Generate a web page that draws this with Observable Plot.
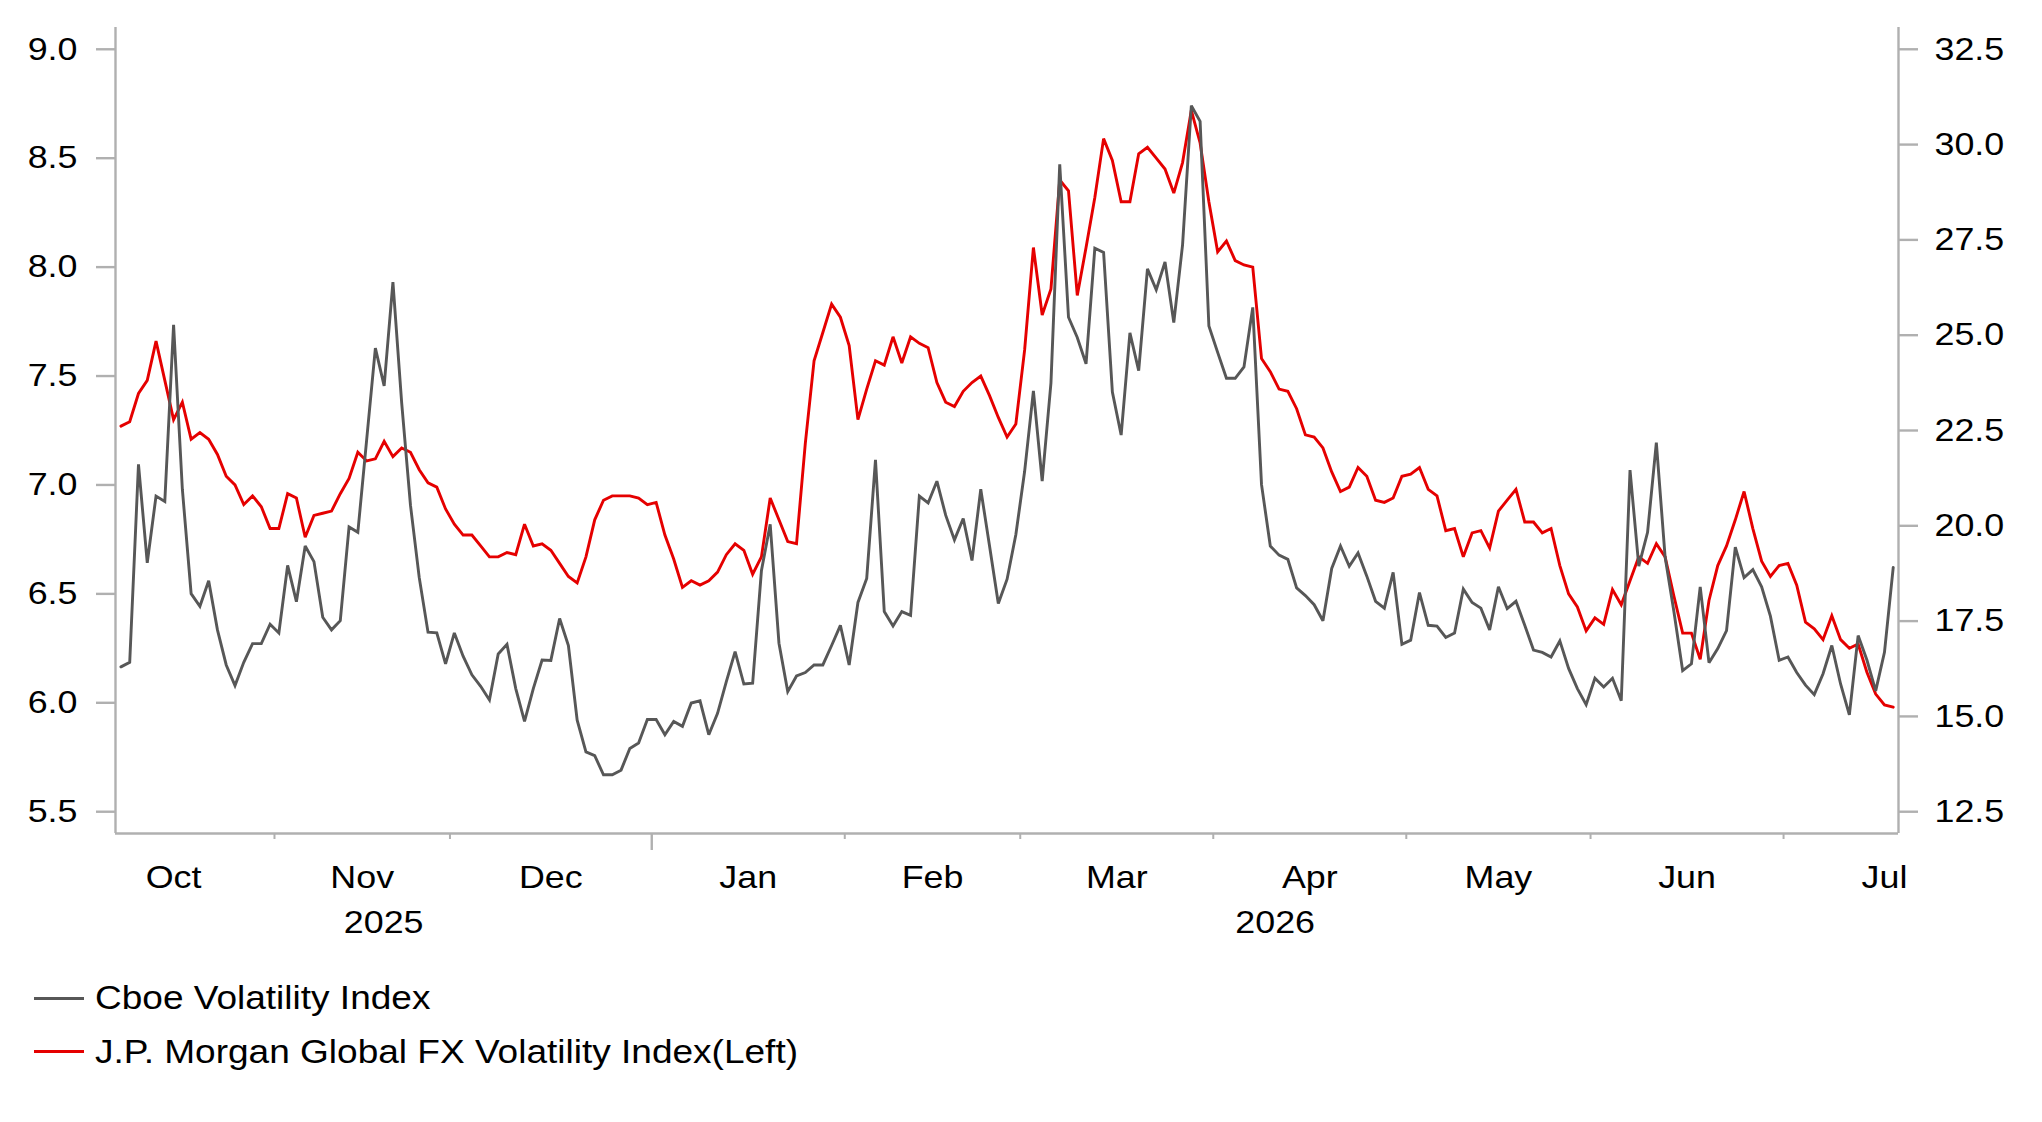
<!DOCTYPE html>
<html>
<head>
<meta charset="utf-8">
<script src="https://cdn.jsdelivr.net/npm/d3@7"></script>
<script src="https://cdn.jsdelivr.net/npm/@observablehq/plot@0.6"></script>
<style>
  html, body { margin: 0; padding: 0; background: #fff; }
  #chart { position: relative; width: 2042px; height: 1122px; overflow: hidden; background: #fff; }
  #legend { position: absolute; left: 0; top: 950px; width: 2042px; height: 172px;
            font-family: "Liberation Sans", Arial, sans-serif; color: #000; }
  .item { position: absolute; left: 0; height: 34px; }
  .swatch { position: absolute; left: 34px; width: 50px; height: 3px; top: 15.5px; }
  .label { position: absolute; left: 95px; top: 0; font-size: 33.5px; line-height: 34px; white-space: nowrap;
           transform: scaleX(1.105); transform-origin: left center; }
</style>
</head>
<body>
<div id="chart"></div>
<script>
// ---------- data ----------
const startDate = "2025-10-08"; // first trading day shown (weekday series)
const fxVol = [
7.27,7.29,7.42,7.48,7.66,7.48,7.30,7.38,7.21,7.24,
7.21,7.14,7.04,7.00,6.91,6.95,6.90,6.80,6.80,6.96,
6.94,6.76,6.86,6.87,6.88,6.96,7.03,7.15,7.11,7.12,
7.20,7.13,7.17,7.15,7.07,7.01,6.99,6.89,6.82,6.77,
6.77,6.72,6.67,6.67,6.69,6.68,6.82,6.72,6.73,6.70,
6.64,6.58,6.55,6.67,6.84,6.93,6.95,6.95,6.95,6.94,
6.91,6.92,6.77,6.66,6.53,6.56,6.54,6.56,6.60,6.68,
6.73,6.70,6.59,6.67,6.94,6.84,6.74,6.73,7.19,7.57,
7.70,7.83,7.77,7.64,7.30,7.44,7.57,7.55,7.68,7.56,
7.68,7.65,7.63,7.47,7.38,7.36,7.43,7.47,7.50,7.41,
7.31,7.22,7.28,7.62,8.09,7.78,7.90,8.40,8.35,7.87,
8.09,8.32,8.59,8.49,8.30,8.30,8.52,8.55,8.50,8.45,
8.34,8.48,8.72,8.57,8.30,8.07,8.12,8.03,8.01,8.00,
7.58,7.52,7.44,7.43,7.35,7.23,7.22,7.17,7.06,6.97,
6.99,7.08,7.04,6.93,6.92,6.94,7.04,7.05,7.08,6.98,
6.95,6.79,6.80,6.67,6.78,6.79,6.71,6.88,6.93,6.98,
6.83,6.83,6.78,6.80,6.63,6.50,6.44,6.33,6.39,6.36,
6.52,6.45,6.56,6.67,6.64,6.73,6.67,6.49,6.32,6.32,
6.20,6.47,6.63,6.72,6.84,6.97,6.80,6.65,6.58,6.63,
6.64,6.54,6.37,6.34,6.29,6.40,6.29,6.25,6.27,6.14,
6.04,5.99,5.98];
const vix = [
16.30,16.42,21.61,19.03,20.78,20.64,25.27,20.96,18.22,17.89,
18.56,17.27,16.35,15.81,16.42,16.91,16.91,17.42,17.19,18.96,
18.01,19.47,19.06,17.60,17.27,17.51,19.97,19.83,22.24,24.66,
23.67,26.39,23.22,20.54,18.64,17.21,17.19,16.38,17.19,16.58,
16.09,15.79,15.43,16.64,16.89,15.73,14.87,15.73,16.48,16.47,
17.57,16.86,14.90,14.07,13.97,13.47,13.47,13.59,14.16,14.30,
14.92,14.92,14.52,14.87,14.74,15.35,15.41,14.52,15.08,15.91,
16.70,15.85,15.87,18.82,20.04,16.92,15.65,16.06,16.15,16.35,
16.35,16.86,17.39,16.35,17.99,18.62,21.73,17.75,17.37,17.75,
17.65,20.78,20.60,21.17,20.28,19.63,20.19,19.09,20.96,19.47,
17.96,18.60,19.77,21.43,23.54,21.17,23.75,29.48,25.47,24.94,
24.25,27.28,27.17,23.51,22.38,25.06,24.07,26.74,26.19,26.92,
25.33,27.37,31.02,30.61,25.24,24.55,23.87,23.87,24.17,25.73,
21.08,19.47,19.23,19.12,18.37,18.17,17.93,17.51,18.88,19.47,
18.94,19.29,18.68,18.02,17.84,18.78,16.89,17.00,18.25,17.39,
17.37,17.07,17.19,18.34,17.99,17.84,17.27,18.40,17.83,18.02,
17.39,16.74,16.68,16.56,16.98,16.26,15.73,15.31,16.00,15.77,
16.00,15.41,21.46,18.94,19.83,22.18,19.18,17.75,16.20,16.38,
18.40,16.41,16.78,17.25,19.44,18.64,18.85,18.40,17.63,16.47,
16.56,16.15,15.82,15.57,16.12,16.86,15.85,15.04,17.12,16.48,
15.67,16.68,18.91];
const leftTicks = [5.5, 6.0, 6.5, 7.0, 7.5, 8.0, 8.5, 9.0];
const rightTicks = [12.5, 15.0, 17.5, 20.0, 22.5, 25.0, 27.5, 30.0, 32.5];
const monthLabels = ["Oct", "Nov", "Dec", "Jan", "Feb", "Mar", "Apr", "May", "Jun", "Jul"];
const yearLabels = ["2025", "2026"];
const seriesNames = ["Cboe Volatility Index", "J.P. Morgan Global FX Volatility Index(Left)"];

// ---------- styling ----------
const RED = "#e50000", GRAY = "#575757", AXIS = "#b0b0b0";
const FONT = '"Liberation Sans", Arial, Helvetica, sans-serif';
const STRETCH = 1.12;

// ---------- weekday calendar ----------
const n = fxVol.length;
const start = new Date(startDate + "T00:00:00Z");
const calStart = new Date(Date.UTC(start.getUTCFullYear(), start.getUTCMonth(), 1));
const days = [];
let offset = -1;
for (const d = new Date(calStart); ; d.setUTCDate(d.getUTCDate() + 1)) {
  const w = d.getUTCDay();
  if (w !== 0 && w !== 6) {
    if (+d === +start) offset = days.length;
    days.push(new Date(d));
  }
  const next = new Date(d); next.setUTCDate(d.getUTCDate() + 1);
  if (offset >= 0 && days.length - offset >= n && next.getUTCMonth() !== d.getUTCMonth()) break;
}
const indexed = days.map((day, k) => ({day, idx: k - offset}));
const months = d3.groups(indexed, e => e.day.getUTCFullYear() * 12 + e.day.getUTCMonth())
  .map(([key, arr], j) => ({
    year: arr[0].day.getUTCFullYear(),
    month: arr[0].day.getUTCMonth(),
    first: arr[0].idx,
    last: arr[arr.length - 1].idx,
    label: monthLabels[j]
  }));

const xDomain = [-0.62, n - 1 + 0.6];
const monthBounds = months.slice(1).filter(m => m.month !== 0).map(m => m.first - 0.5);
const yearBounds = months.filter(m => m.month === 0).map(m => m.first - 0.5);
const monthCenters = months.map(m => ({c: (m.first + m.last) / 2, label: m.label}));
const years = d3.groups(months, m => m.year).map(([yr, arr], j) => {
  const a = Math.max(xDomain[0], arr[0].first - 0.5);
  const b = Math.min(xDomain[1], arr[arr.length - 1].last + 0.5);
  return {c: (a + b) / 2, label: yearLabels[j]};
});

// ---------- dual axis mapping ----------
const leftDomain = [5.4, 9.1];
const toRight = d3.scaleLinear()
  .domain([leftTicks[0], leftTicks[leftTicks.length - 1]])
  .range([rightTicks[0], rightTicks[rightTicks.length - 1]]);
const toLeft = v => toRight.invert(v);

const fxData = fxVol.map((v, i) => ({i, v}));
const vixData = vix.map((v, i) => ({i, v}));
const fmt = d3.format(".1f");

const plot = Plot.plot({
  width: 2042,
  height: 950,
  marginLeft: 115,
  marginRight: 144,
  marginTop: 27,
  marginBottom: 117,
  style: {fontFamily: FONT, fontSize: "32px", color: "#000", background: "#fff", overflow: "visible"},
  x: {type: "linear", domain: xDomain, axis: null},
  y: {domain: leftDomain, axis: null},
  marks: [
    Plot.line(fxData, {x: "i", y: "v", stroke: RED, strokeWidth: 2.9, strokeLinejoin: "miter", strokeMiterlimit: 3}),
    Plot.line(vixData, {x: "i", y: d => toLeft(d.v), stroke: GRAY, strokeWidth: 2.9, strokeLinejoin: "miter", strokeMiterlimit: 3}),
    Plot.ruleX(xDomain, {stroke: AXIS, strokeWidth: 2.4}),
    Plot.ruleY([leftDomain[0]], {x1: xDomain[0], x2: xDomain[1], stroke: AXIS, strokeWidth: 2.4}),
    Plot.axisY(leftTicks, {anchor: "left", tickSize: 19, tickPadding: 19, tickFormat: d => fmt(d),
      stroke: AXIS, strokeWidth: 2.4, fill: "#000", label: null}),
    Plot.axisY(rightTicks.map(toLeft), {anchor: "right", tickSize: 19, tickPadding: 17,
      tickFormat: d => fmt(toRight(d)), stroke: AXIS, strokeWidth: 2.4, fill: "#000", label: null}),
    Plot.axisX(monthBounds, {anchor: "bottom", tickSize: 6, tickFormat: () => "", stroke: AXIS, strokeWidth: 2, label: null}),
    Plot.axisX(yearBounds, {anchor: "bottom", tickSize: 17, tickFormat: () => "", stroke: AXIS, strokeWidth: 2.4, label: null}),
    Plot.text(monthCenters, {x: "c", text: "label", frameAnchor: "bottom", dy: 44, lineAnchor: "middle", fill: "#000"}),
    Plot.text(years, {x: "c", text: "label", frameAnchor: "bottom", dy: 89, lineAnchor: "middle", fill: "#000"})
  ]
});

// horizontally stretch text glyphs around their anchor (reference type is wide)
plot.querySelectorAll("text").forEach(t => {
  const tr = t.getAttribute("transform") || "";
  const x = +t.getAttribute("x") || 0, y = +t.getAttribute("y") || 0;
  t.setAttribute("transform", `${tr} translate(${x},${y}) scale(${STRETCH},1) translate(${-x},${-y})`);
});

const chart = document.getElementById("chart");
chart.appendChild(plot);

// legend below the plot
const legend = document.createElement("div");
legend.id = "legend";
const colors = [GRAY, RED];
const centers = [48, 101.5];
seriesNames.forEach((name, k) => {
  const item = document.createElement("div");
  item.className = "item";
  item.style.top = (centers[k] - 17) + "px";
  const sw = document.createElement("div");
  sw.className = "swatch";
  sw.style.background = colors[k];
  const lb = document.createElement("div");
  lb.className = "label";
  lb.textContent = name;
  item.appendChild(sw);
  item.appendChild(lb);
  legend.appendChild(item);
});
chart.appendChild(legend);
</script>
</body>
</html>
